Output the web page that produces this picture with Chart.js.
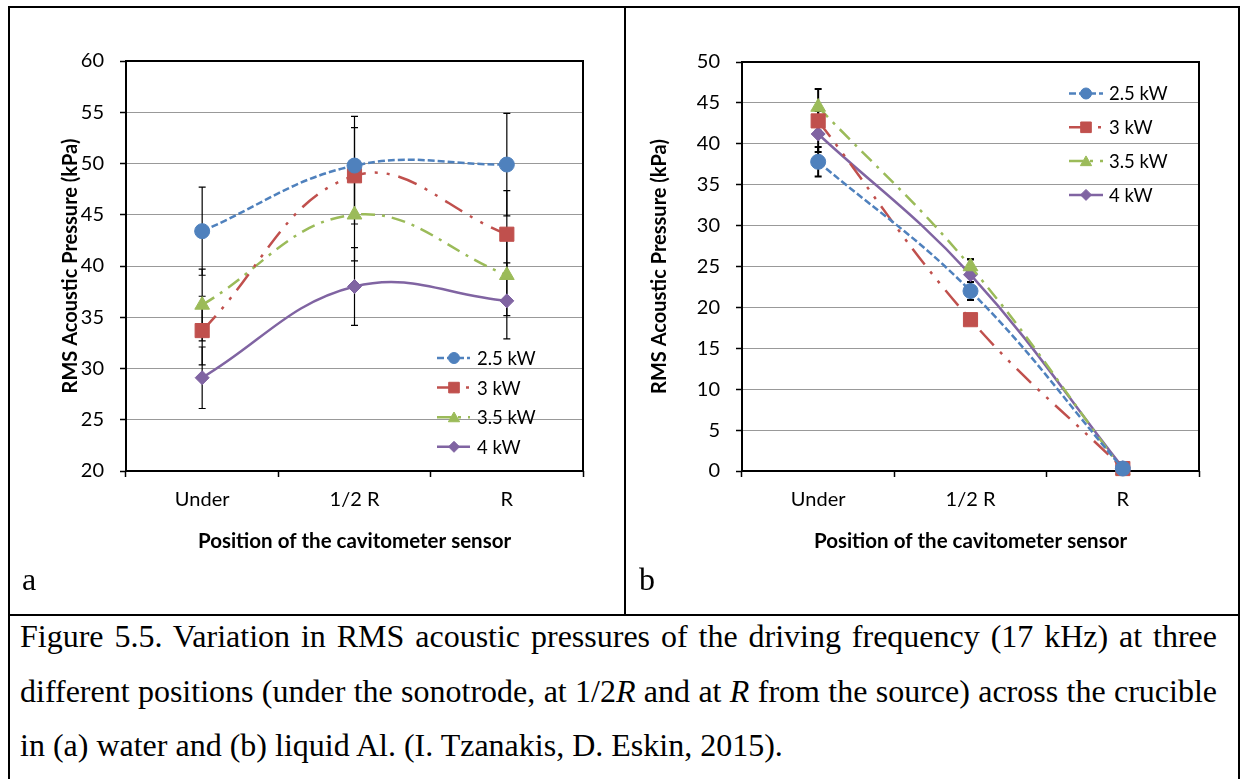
<!DOCTYPE html>
<html><head><meta charset="utf-8">
<script src="https://cdn.jsdelivr.net/npm/chart.js@4"></script>
<style>
html,body{margin:0;padding:0;background:#fff;}
body{width:1241px;height:779px;position:relative;overflow:hidden;}
.ln{position:absolute;background:#000;}
canvas{position:absolute;}
.cap{position:absolute;left:20px;width:1197px;font-family:"Liberation Serif","Times New Roman",serif;font-size:32px;line-height:40px;color:#000;white-space:nowrap;}
.just{text-align:justify;text-align-last:justify;white-space:normal;}
.lab{position:absolute;font-family:"Liberation Serif","Times New Roman",serif;font-size:32px;line-height:40px;color:#000;}
</style></head><body>
<div class="ln" style="left:8px;top:6px;width:1232px;height:2px"></div>
<div class="ln" style="left:8px;top:6px;width:2px;height:773px"></div>
<div class="ln" style="left:1238px;top:6px;width:2px;height:773px"></div>
<div class="ln" style="left:624px;top:6px;width:2px;height:609px"></div>
<div class="ln" style="left:8px;top:614px;width:1232px;height:2px"></div>
<canvas id="cA" width="614" height="605" style="left:10px;top:8px"></canvas>
<canvas id="cB" width="612" height="605" style="left:626px;top:8px"></canvas>
<div class="lab" style="left:22px;top:559px">a</div>
<div class="lab" style="left:639px;top:559px">b</div>
<div class="cap just" style="top:616px">Figure 5.5. Variation in RMS acoustic pressures of the driving frequency (17 kHz) at three</div>
<div class="cap just" style="top:671px">different positions (under the sonotrode, at 1/2<i>R</i> and at <i>R</i> from the source) across the crucible</div>
<div class="cap" style="top:725px">in (a) water and (b) liquid Al. (I. Tzanakis, D. Eskin, 2015).</div>
<script>
// ---- data ----
const categories = ['Under', '1/2 R', 'R'];
const seriesNames = ['2.5 kW', '3 kW', '3.5 kW', '4 kW'];
// (a) water
const water_2_5 = [43.4, 49.8, 49.9];
const water_3   = [33.7, 48.8, 43.1];
const water_3_5 = [36.2, 45.0, 39.1];
const water_4   = [29.1, 38.0, 36.6];
const waterErr_2_5 = [4.3, 4.8, 5.0];
const waterErr_3   = [3.35, 4.7, 4.25];
const waterErr_3_5 = [3.5, 4.5, 3.95];
const waterErr_4   = [3.0, 3.8, 3.7];
// (b) liquid Al
const al_2_5 = [37.8, 22.0, 0.3];
const al_3   = [42.8, 18.5, 0.3];
const al_3_5 = [44.5, 25.0, 0.1];
const al_4   = [41.2, 24.0, 0.4];
const alErr_2_5 = [1.8, 1.1, 0.2];
const alErr_3   = [1.2, 0.6, 0.2];
const alErr_3_5 = [2.2, 0.9, 0.2];
const alErr_4   = [2.2, 1.9, 0.2];
// axis ranges
const waterAxis = [20, 60, 5];
const alAxis = [0, 50, 5];
const yTitle = 'RMS Acoustic Pressure (kPa)';
const xTitle = 'Position of the cavitometer sensor';

// ---- styles ----
const colors = ['#4F81BD', '#C0504D', '#9BBB59', '#8064A2'];
const dashes = [[7, 3], [20, 9, 3, 9, 3, 9], [14, 7, 3, 7], []];
const pStyles = ['circle', 'rect', 'triangle', 'rectRot'];
const pRadius = [7.5, 10, 8.5, 7];
const legRadius = [5.5, 7.5, 6.5, 5.5];
const FONT = 'Lato, "Open Sans", sans-serif';

function drawMarker(ctx, style, x, y, r, color) {
  ctx.save();
  ctx.fillStyle = color; ctx.strokeStyle = color; ctx.lineWidth = 1; ctx.setLineDash([]);
  ctx.beginPath();
  if (style === 'circle') ctx.arc(x, y, r, 0, Math.PI * 2);
  else if (style === 'rect') { const s = r * Math.SQRT1_2; ctx.rect(x - s, y - s, 2 * s, 2 * s); }
  else if (style === 'triangle') {
    for (let k = 0; k < 3; k++) {
      const a = k * 2 * Math.PI / 3;
      const px = x + Math.sin(a) * r, py = y - Math.cos(a) * r + r * 0.2;
      if (k === 0) ctx.moveTo(px, py); else ctx.lineTo(px, py);
    }
    ctx.closePath();
  } else { ctx.moveTo(x, y - r); ctx.lineTo(x + r, y); ctx.lineTo(x, y + r); ctx.lineTo(x - r, y); ctx.closePath(); }
  ctx.fill(); ctx.stroke();
  ctx.restore();
}

const frameAndErrors = {
  id: 'frameAndErrors',
  beforeDatasetsDraw(chart, args, opts) {
    const ctx = chart.ctx, a = chart.chartArea, ys = chart.scales.y;
    ctx.save();
    ctx.strokeStyle = '#000'; ctx.lineWidth = 2; ctx.setLineDash([]);
    ctx.strokeRect(a.left, a.top, a.right - a.left, a.bottom - a.top);
    ctx.lineWidth = opts.errWidth;
    chart.data.datasets.forEach((ds, i) => {
      const meta = chart.getDatasetMeta(i);
      ds.errors.forEach((e, j) => {
        const x = meta.data[j].x, v = ds.data[j];
        const y1 = ys.getPixelForValue(v + e), y2 = ys.getPixelForValue(v - e);
        ctx.beginPath();
        ctx.moveTo(x, y1); ctx.lineTo(x, y2);
        ctx.moveTo(x - 3.5, y1); ctx.lineTo(x + 3.5, y1);
        ctx.moveTo(x - 3.5, y2); ctx.lineTo(x + 3.5, y2);
        ctx.stroke();
      });
    });
    ctx.restore();
  },
  afterDraw(chart, args, opts) {
    const ctx = chart.ctx, a = chart.chartArea, L = opts.legend;
    ctx.save();
    chart.data.datasets.forEach((ds, i) => {
      const y = a.top + L.y0 + i * L.dy;
      ctx.strokeStyle = colors[i]; ctx.lineWidth = 2.5; ctx.setLineDash(dashes[i]);
      ctx.beginPath(); ctx.moveTo(a.left + L.x0, y); ctx.lineTo(a.left + L.x1, y); ctx.stroke();
      drawMarker(ctx, pStyles[i], a.left + L.xm, y, legRadius[i], colors[i]);
      ctx.setLineDash([]);
      ctx.fillStyle = '#000'; ctx.font = '18.5px ' + FONT; ctx.textBaseline = 'middle'; ctx.textAlign = 'left';
      ctx.fillText(ds.label, a.left + L.xt, y + 1);
    });
    ctx.restore();
  }
};

function makeChart(id, series, errs, axis, g) {
  const datasets = series.map((d, i) => ({
    label: seriesNames[i], data: d, errors: errs[i],
    borderColor: colors[i], backgroundColor: colors[i], borderWidth: 2.5, borderDash: dashes[i],
    pointStyle: pStyles[i], pointRadius: pRadius[i], pointHoverRadius: pRadius[i],
    pointBackgroundColor: colors[i], pointBorderColor: colors[i], pointBorderWidth: 1,
    tension: 0.4, clip: false, fill: false
  }));
  return new Chart(document.getElementById(id), {
    type: 'line',
    data: { labels: categories, datasets },
    plugins: [frameAndErrors],
    options: {
      responsive: false, animation: false, devicePixelRatio: 1,
      layout: { padding: { top: g.top, right: g.right, left: 0, bottom: 0 } },
      plugins: { legend: { display: false }, tooltip: { enabled: false },
        frameAndErrors: { errWidth: g.errWidth, legend: g.legend } },
      scales: {
        x: {
          type: 'category', offset: true,
          grid: { offset: true, drawOnChartArea: false, drawTicks: true, tickLength: 6, tickColor: '#000', tickWidth: 1.5 },
          border: { display: false },
          ticks: { color: '#000', font: { family: FONT, size: 20 }, padding: 11, maxRotation: 0 },
          title: { display: true, text: xTitle, color: '#000', font: { family: FONT, size: 20.5, weight: 'bold' }, padding: { top: 0, bottom: 59 } },
          afterFit: s => { s.height = g.xh; }
        },
        y: {
          min: axis[0], max: axis[1],
          grid: { color: '#999', lineWidth: 1, borderDash: [4, 3], drawTicks: true, tickLength: 6, tickColor: '#000', tickWidth: 1.5, tickBorderDash: [] },
          border: { display: false },
          ticks: { stepSize: axis[2], color: '#000', font: { family: FONT, size: 20 }, padding: 16 },
          title: { display: true, text: yTitle, color: '#000', font: { family: FONT, size: 20, weight: 'bold' }, padding: { top: g.ytp, bottom: 0 } },
          afterFit: s => { s.width = g.yw; }
        }
      }
    }
  });
}

makeChart('cA', [water_2_5, water_3, water_3_5, water_4],
  [waterErr_2_5, waterErr_3, waterErr_3_5, waterErr_4], waterAxis,
  { top: 53, right: 41, yw: 116, xh: 142, ytp: 49, errWidth: 1.2,
    legend: { x0: 311, x1: 344, xm: 328, xt: 351, y0: 297, dy: 29.6 } });
makeChart('cB', [al_2_5, al_3, al_3_5, al_4],
  [alErr_2_5, alErr_3, alErr_3_5, alErr_4], alAxis,
  { top: 54, right: 39, yw: 116, xh: 142, ytp: 22, errWidth: 2,
    legend: { x0: 327, x1: 361, xm: 344, xt: 367, y0: 31.5, dy: 33.8 } });
</script>
</body></html>
